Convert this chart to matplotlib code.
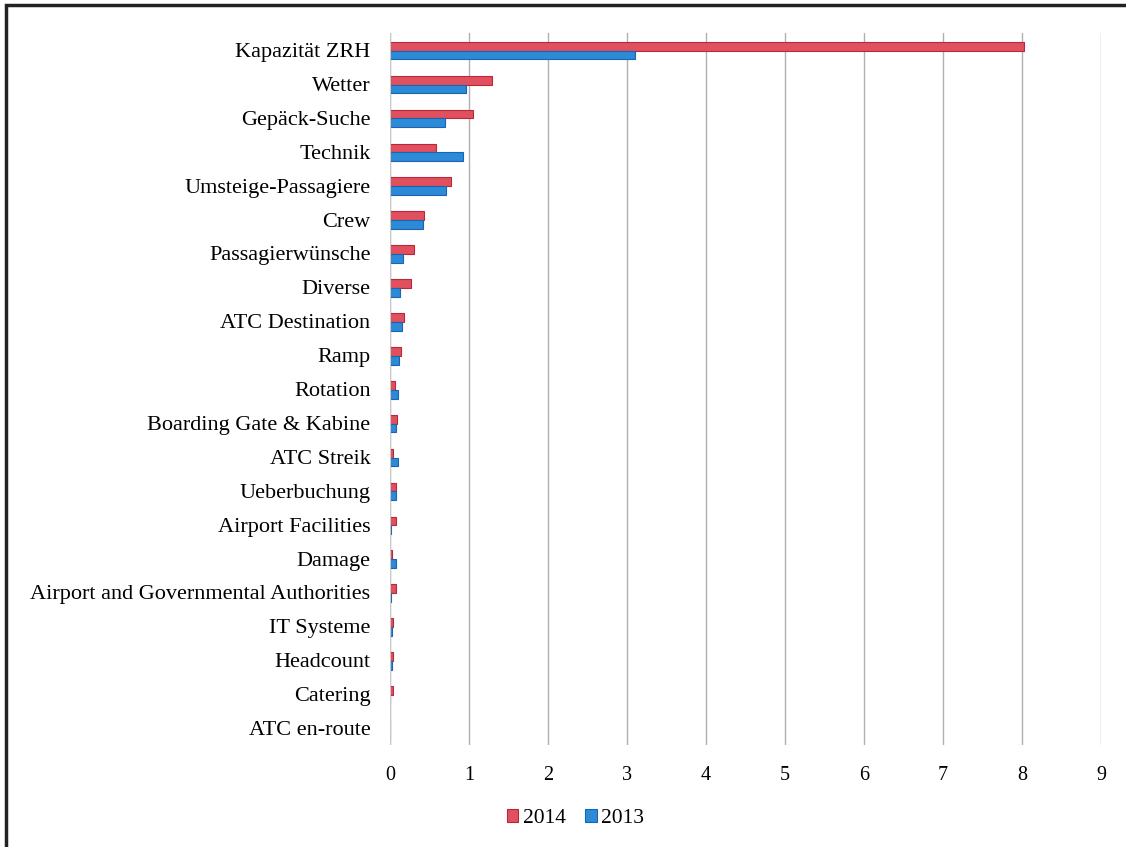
import matplotlib.pyplot as plt
import matplotlib.patches as mpatches
import numpy as np

plt.rcParams['font.family'] = ['Liberation Serif', 'DejaVu Serif']

categories = ["Kapazität ZRH", "Wetter", "Gepäck-Suche", "Technik", "Umsteige-Passagiere",
              "Crew", "Passagierwünsche", "Diverse", "ATC Destination", "Ramp", "Rotation",
              "Boarding Gate & Kabine", "ATC Streik", "Ueberbuchung", "Airport Facilities",
              "Damage", "Airport and Governmental Authorities", "IT Systeme", "Headcount",
              "Catering", "ATC en-route"]
values_2014 = [8.03, 1.29, 1.05, 0.58, 0.77, 0.43, 0.30, 0.27, 0.18, 0.14, 0.06,
               0.09, 0.04, 0.07, 0.08, 0.02, 0.08, 0.04, 0.04, 0.04, 0.0]
values_2013 = [3.10, 0.96, 0.70, 0.92, 0.71, 0.42, 0.16, 0.13, 0.15, 0.11, 0.10,
               0.07, 0.10, 0.08, 0.01, 0.07, 0.01, 0.03, 0.03, 0.005, 0.0]
x_ticks = list(range(10))

fig = plt.figure(figsize=(11.26, 8.47), dpi=100)
ax = fig.add_axes([0.3464, 0.1204, 0.6314, 0.8406])

y = np.arange(len(categories))
bh = 0.26
ax.barh(y - 0.11, values_2014, height=bh, color='#e0505e', edgecolor='#b8283a',
        linewidth=0.8, label='2014')
ax.barh(y + 0.15, values_2013, height=bh, color='#2c8ad6', edgecolor='#1a64b0',
        linewidth=0.8, label='2013')

ax.set_xlim(0, 9)
ax.set_ylim(len(categories) - 0.5, -0.5)
ax.set_xticks(x_ticks)
ax.set_yticks(y)
ax.set_yticklabels(categories, fontsize=16)
ax.tick_params(axis='x', labelsize=14.5, length=0, pad=15)
ax.tick_params(axis='y', length=0, pad=14)
ax.grid(axis='x', color='#b0b0b0', linewidth=1.0)
ax.set_axisbelow(True)
for s in ax.spines.values():
    s.set_visible(False)
ax.axvline(0, color='#c8c8c8', linewidth=0.8)

fig.legend(loc='center', bbox_to_anchor=(0.511, 0.034), ncol=2, frameon=False,
           fontsize=15.5, handlelength=0.55, handleheight=0.55, handletextpad=0.2,
           columnspacing=0.9)

# black frame round the whole chart
fig.patches.append(mpatches.Rectangle((0.005, -0.01), 1.02, 1.004, transform=fig.transFigure,
                                      fill=False, edgecolor='#222222', linewidth=2.5))

fig.savefig('out.png', dpi=100)
